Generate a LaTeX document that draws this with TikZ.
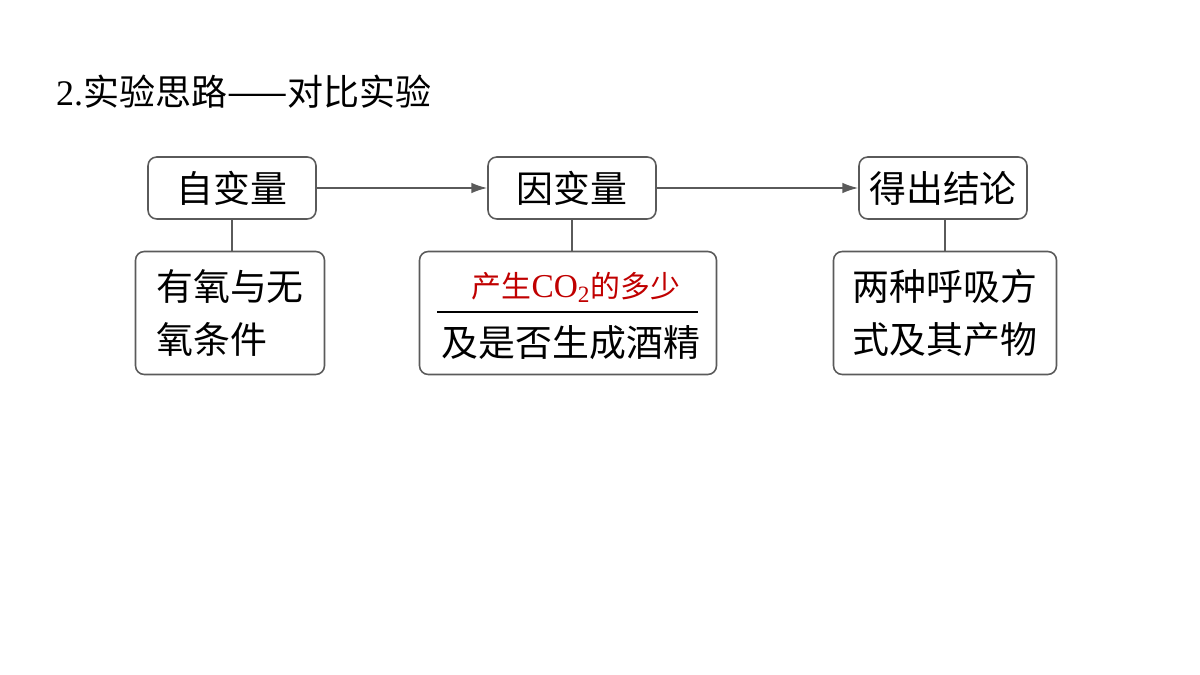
\documentclass[tikz,border=0pt]{standalone}
\usepackage{fontspec}
\setmainfont{Liberation Serif}
\newfontfamily\cjk{Noto Sans CJK SC}
\usetikzlibrary{positioning,arrows.meta}
\definecolor{boxline}{RGB}{90,90,90}
\definecolor{darkred}{RGB}{192,0,0}
\tikzset{
  headbox/.style={draw=boxline,rounded corners=5pt,line width=0.9pt,minimum width=168*0.02cm,minimum height=62*0.02cm,font=\cjk\fontsize{21}{24}\selectfont},
  textbox/.style={draw=boxline,rounded corners=5pt,line width=0.9pt,minimum height=123*0.02cm,font=\cjk\fontsize{21}{30}\selectfont,align=left},
  link/.style={draw=boxline,line width=0.9pt},
  flow/.style={draw=boxline,line width=0.9pt,-{Latex[length=9pt,width=6pt]}}
}
\begin{document}
\begin{tikzpicture}[x=0.02cm,y=-0.02cm]
   \useasboundingbox (0,0) rectangle (1200,675);
   \node[anchor=west,font=\cjk\fontsize{20.5}{22}\selectfont] (title) at (50,92) {{\rmfamily 2.}实验思路——对比实验};
   \node[headbox] (iv) at (232,188) {自变量};
   \node[headbox] (dv) at (572,188) {因变量};
   \node[headbox] (res) at (943,188) {得出结论};
   \node[textbox,minimum width=189*0.02cm] (ivt) at (230,313) {有氧与无\\氧条件};
   \node[textbox,minimum width=297*0.02cm] (dvt) at (568,313) {};
   \node[textbox,minimum width=223*0.02cm] (rest) at (945,313) {两种呼吸方\\式及其产物};
   \node[font=\cjk\fontsize{17}{20}\selectfont,text=darkred] (co2) at (576,287) {产生{\rmfamily\fontsize{19}{20}\selectfont CO\textsubscript{2}}的多少};
   \node[font=\cjk\fontsize{21}{24}\selectfont] (eth) at (571,343) {及是否生成酒精};
   \coordinate (ul) at (437,312);
   \coordinate (ur) at (698,312);
   \draw[line width=0.9pt] (ul) -- (ur);
   \draw[link] (iv) -- (iv|-ivt.north);
   \draw[link] (dv) -- (dv|-dvt.north);
   \draw[link] (res.south-|rest) -- (rest);
   \draw[flow] (iv) -- (dv);
   \draw[flow] (dv) -- (res);
\end{tikzpicture}
\end{document}
